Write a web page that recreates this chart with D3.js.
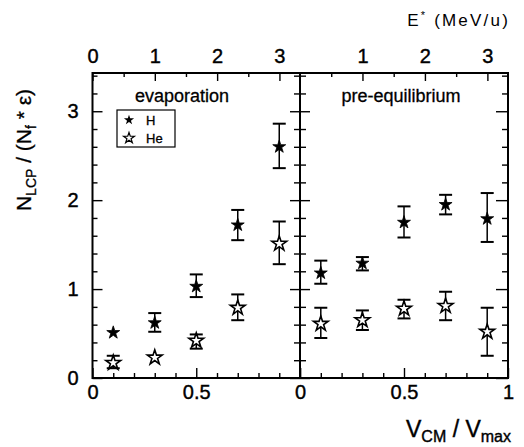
<!DOCTYPE html>
<html>
<head>
<meta charset="utf-8">
<script src="https://cdn.jsdelivr.net/npm/d3@7"></script>
<style>
  html, body { margin: 0; padding: 0; background: #fff; }
  svg { display: block; font-family: "Liberation Sans", Arial, Helvetica, sans-serif; }
</style>
</head>
<body>
<svg id="chart" width="524" height="447"></svg>
<script>
// Velocity bins (V_CM / V_max) shared by both panels
const velocity = [0.1, 0.3, 0.5, 0.7, 0.9];

// Evaporation panel: yields with lower / upper error limits
const evapH      = [0.51, 0.62, 1.03, 1.72, 2.60];
const evapHLow   = [0.51, 0.52, 0.91, 1.55, 2.36];
const evapHHigh  = [0.51, 0.73, 1.165, 1.89, 2.86];
const evapHe     = [0.17, 0.23, 0.42, 0.79, 1.51];
const evapHeLow  = [0.11, 0.23, 0.33, 0.65, 1.28];
const evapHeHigh = [0.25, 0.23, 0.49, 0.94, 1.76];

// Pre-equilibrium panel
const preH      = [1.18, 1.29, 1.75, 1.95, 1.79];
const preHLow   = [1.06, 1.21, 1.58, 1.84, 1.53];
const preHHigh  = [1.32, 1.36, 1.93, 2.06, 2.08];
const preHe     = [0.61, 0.65, 0.78, 0.81, 0.52];
const preHeLow  = [0.45, 0.54, 0.67, 0.65, 0.25];
const preHeHigh = [0.79, 0.76, 0.88, 0.97, 0.79];

// Tick labels
const yTickLabels = [0, 1, 2, 3];
const xTickLabelsLeft = [0, 0.5];
const xTickLabelsRight = [0, 0.5, 1];
const eTickLabelsLeft = [0, 1, 2, 3];
const eTickLabelsRight = [1, 2, 3];

const svg = d3.select("#chart");
const plotTop = 73, plotBottom = 378;
const xL = d3.scaleLinear().domain([0, 1]).range([92.5, 300]);
const xR = d3.scaleLinear().domain([0, 1]).range([300, 508]);
const eL = d3.scaleLinear().domain([0, 3.33]).range([92.5, 300]);
const eR = d3.scaleLinear().domain([0, 3.33]).range([300, 508]);
const y = d3.scaleLinear().domain([0, 3.43]).range([plotBottom, plotTop]);

const FS = 20;
const minorY = d3.range(0, 3.41, 0.2).filter(v => Math.abs(v - Math.round(v)) > 1e-6);
const minorX = d3.range(0.1, 1.0, 0.1).filter(v => Math.abs(v - 0.5) > 1e-6);
const minorE = [0.5, 1.5, 2.5];

function styleAxis(g) {
  g.select(".domain").remove();
  g.selectAll(".tick line").attr("stroke", "#000").attr("stroke-width", 1.4);
  g.selectAll("text").attr("fill", "#000").attr("font-size", FS)
    .attr("stroke", "#000").attr("stroke-width", 0.4);
}

// Bottom axes (ticks point inward)
function bottomAxis(scale, labels) {
  svg.append("g").attr("transform", `translate(0,${plotBottom})`)
    .call(d3.axisBottom(scale).tickValues(minorX).tickSize(-5).tickFormat(""))
    .call(styleAxis);
  svg.append("g").attr("transform", `translate(0,${plotBottom})`)
    .call(d3.axisBottom(scale).tickValues([0, 0.5, 1]).tickSize(-10).tickPadding(7)
      .tickFormat(d => labels.includes(d) ? d3.format("")(d) : ""))
    .call(styleAxis);
}
bottomAxis(xL, xTickLabelsLeft);
bottomAxis(xR, xTickLabelsRight);

// Top energy axes
function topAxis(scale, labels) {
  svg.append("g").attr("transform", `translate(0,${plotTop})`)
    .call(d3.axisTop(scale).tickValues(minorE).tickSize(-4).tickFormat(""))
    .call(styleAxis);
  svg.append("g").attr("transform", `translate(0,${plotTop})`)
    .call(d3.axisTop(scale).tickValues(labels).tickSize(-8).tickPadding(10).tickFormat(d3.format("d")))
    .call(styleAxis);
}
topAxis(eL, eTickLabelsLeft);
topAxis(eR, eTickLabelsRight);

// Left axis
svg.append("g").attr("transform", `translate(${xL(0)},0)`)
  .call(d3.axisLeft(y).tickValues(minorY).tickSize(-5).tickFormat(""))
  .call(styleAxis);
svg.append("g").attr("transform", `translate(${xL(0)},0)`)
  .call(d3.axisLeft(y).tickValues(yTickLabels).tickSize(-10).tickPadding(14).tickFormat(d3.format("d")))
  .call(styleAxis);

// Right axis
svg.append("g").attr("transform", `translate(${xR(1)},0)`)
  .call(d3.axisRight(y).tickValues(minorY).tickSize(-6).tickFormat(""))
  .call(styleAxis);
svg.append("g").attr("transform", `translate(${xR(1)},0)`)
  .call(d3.axisRight(y).tickValues(yTickLabels).tickSize(-12).tickFormat(""))
  .call(styleAxis);

// Shared divider: ticks on both sides
[d3.axisLeft, d3.axisRight].forEach(ax => {
  svg.append("g").attr("transform", `translate(${xR(0)},0)`)
    .call(ax(y).tickValues(minorY).tickSize(6).tickFormat(""))
    .call(styleAxis);
  svg.append("g").attr("transform", `translate(${xR(0)},0)`)
    .call(ax(y).tickValues(yTickLabels).tickSize(10).tickFormat(""))
    .call(styleAxis);
});

// Frames
svg.append("rect").attr("x", xL(0)).attr("y", plotTop)
  .attr("width", xR(1) - xL(0)).attr("height", plotBottom - plotTop)
  .attr("fill", "none").attr("stroke", "#000").attr("stroke-width", 2);
svg.append("line").attr("x1", xR(0)).attr("x2", xR(0)).attr("y1", plotTop).attr("y2", plotBottom)
  .attr("stroke", "#000").attr("stroke-width", 2);

// Markers and error bars
const starFilled = d3.symbol().type(d3.symbolStar).size(52);
const starOpen = d3.symbol().type(d3.symbolStar).size(68);

function series(xs, vals, lo, hi, filled) {
  const g = svg.append("g");
  vals.forEach((v, i) => {
    const cx = xs(velocity[i]);
    if (hi[i] - lo[i] > 0.001) {
      g.append("line").attr("x1", cx).attr("x2", cx).attr("y1", y(lo[i])).attr("y2", y(hi[i]))
        .attr("stroke", "#000").attr("stroke-width", 1.5);
      [lo[i], hi[i]].forEach(e => {
        g.append("line").attr("x1", cx - 6.5).attr("x2", cx + 6.5).attr("y1", y(e)).attr("y2", y(e))
          .attr("stroke", "#000").attr("stroke-width", 2);
      });
    }
    g.append("path")
      .attr("d", filled ? starFilled() : starOpen())
      .attr("transform", `translate(${cx},${y(v)})`)
      .attr("fill", filled ? "#000" : "#fff")
      .attr("stroke", "#000").attr("stroke-width", filled ? 0.8 : 1.6);
  });
}
series(xL, evapH, evapHLow, evapHHigh, true);
series(xL, evapHe, evapHeLow, evapHeHigh, false);
series(xR, preH, preHLow, preHHigh, true);
series(xR, preHe, preHeLow, preHeHigh, false);

// Panel titles
svg.append("text").attr("x", 182).attr("y", 102).attr("text-anchor", "middle")
  .attr("font-size", 18).attr("stroke", "#000").attr("stroke-width", 0.3).text("evaporation");
svg.append("text").attr("x", 401).attr("y", 102).attr("text-anchor", "middle")
  .attr("font-size", 18).attr("stroke", "#000").attr("stroke-width", 0.3).text("pre-equilibrium");

// Legend
const leg = svg.append("g");
leg.append("rect").attr("x", 117).attr("y", 110).attr("width", 58).attr("height", 37)
  .attr("fill", "none").attr("stroke", "#000").attr("stroke-width", 1.2);
leg.append("path").attr("d", d3.symbol().type(d3.symbolStar).size(32)())
  .attr("transform", "translate(129,120)").attr("fill", "#000");
leg.append("path").attr("d", d3.symbol().type(d3.symbolStar).size(36)())
  .attr("transform", "translate(129,138)").attr("fill", "#fff").attr("stroke", "#000").attr("stroke-width", 1.2);
leg.append("text").attr("x", 146).attr("y", 125).attr("font-size", 13)
  .attr("stroke", "#000").attr("stroke-width", 0.3).text("H");
leg.append("text").attr("x", 146).attr("y", 143).attr("font-size", 13)
  .attr("stroke", "#000").attr("stroke-width", 0.3).text("He");

// Energy axis title
const et = svg.append("text").attr("x", 510).attr("y", 26).attr("text-anchor", "end")
  .attr("font-size", 17).attr("letter-spacing", 2.2);
et.append("tspan").text("E");
et.append("tspan").attr("font-size", 11).attr("dy", -7).text("*");
et.append("tspan").attr("dy", 7).text(" (MeV/u)");

// X axis title
const xt = svg.append("text").attr("x", 511).attr("y", 437).attr("text-anchor", "end")
  .attr("font-size", 23).attr("stroke", "#000").attr("stroke-width", 0.4);
xt.append("tspan").text("V");
xt.append("tspan").attr("font-size", 16).attr("dy", 5).text("CM");
xt.append("tspan").attr("dy", -5).text(" / V");
xt.append("tspan").attr("font-size", 16).attr("dy", 5).text("max");

// Y axis title
const yt = svg.append("text").attr("transform", "translate(31,150) rotate(-90)")
  .attr("text-anchor", "middle").attr("font-size", 21).attr("stroke", "#000").attr("stroke-width", 0.3);
yt.append("tspan").text("N");
yt.append("tspan").attr("font-size", 14).attr("dy", 5).text("LCP");
yt.append("tspan").attr("dy", -5).text(" / (N");
yt.append("tspan").attr("font-size", 14).attr("dy", 5).text("f");
yt.append("tspan").attr("dy", -5).text(" * ε)");
</script>
</body>
</html>
